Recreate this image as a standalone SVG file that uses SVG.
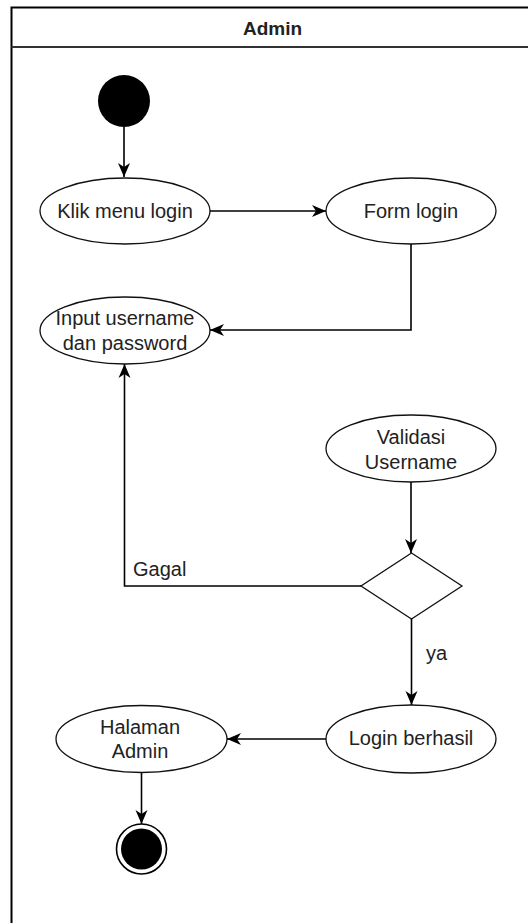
<svg xmlns="http://www.w3.org/2000/svg" width="528" height="923" viewBox="0 0 528 923">
<style>
.t{font-family:"Liberation Sans",Arial,sans-serif;font-size:20px;fill:#222;text-anchor:middle}
.l{font-family:"Liberation Sans",Arial,sans-serif;font-size:20px;fill:#222}
.act{fill:#fff;stroke:#111;stroke-width:1.3}
.edge{fill:none;stroke:#000;stroke-width:1.6}
</style>
<defs>
<marker id="arr" markerUnits="userSpaceOnUse" markerWidth="16" markerHeight="14" viewBox="0 -7 16 14" refX="14" refY="0" orient="auto">
<path d="M0,-6 L14,0 L0,6 L4,0 z" fill="#000"/>
</marker>
</defs>
<rect width="528" height="923" fill="#fff"/>
<g id="lane">
<rect x="11.5" y="7.5" width="523" height="930" fill="none" stroke="#000" stroke-width="2"/>
<line x1="11.5" y1="47" x2="535" y2="47" stroke="#333" stroke-width="2"/>
<text x="272.5" y="35" class="t" style="font-weight:bold;font-size:19px">Admin</text>
</g>
<g id="start"><circle cx="124" cy="101" r="26" fill="#000"/></g>
<g id="klik"><ellipse class="act" cx="125" cy="211" rx="85" ry="33"/><text class="t" x="125" y="218">Klik menu login</text></g>
<g id="form"><ellipse class="act" cx="411" cy="211" rx="85" ry="33"/><text class="t" x="411" y="218">Form login</text></g>
<g id="input"><ellipse class="act" cx="125" cy="330.5" rx="85" ry="33.5"/><text class="t" x="125" y="325">Input username</text><text class="t" x="125" y="350">dan password</text></g>
<g id="validasi"><ellipse class="act" cx="411" cy="448.5" rx="85" ry="33.5"/><text class="t" x="411" y="444">Validasi</text><text class="t" x="411" y="469">Username</text></g>
<g id="decision"><polygon class="act" points="411.5,553 462,586 411.5,619 361,586" stroke-width="1.6"/></g>
<g id="berhasil"><ellipse class="act" cx="411" cy="739" rx="85" ry="34"/><text class="t" x="411" y="745">Login berhasil</text></g>
<g id="halaman"><ellipse class="act" cx="141.5" cy="739" rx="85.5" ry="33.5"/><text class="t" x="140" y="734">Halaman</text><text class="t" x="140" y="758">Admin</text></g>
<g id="end"><circle cx="141.5" cy="849" r="25" fill="#fff" stroke="#000" stroke-width="1.6"/><circle cx="141.5" cy="849" r="20.5" fill="#000"/></g>
<g id="connectors">
<path class="edge" d="M124,127 L124,177" marker-end="url(#arr)"/>
<path class="edge" d="M210,211 L326,211" marker-end="url(#arr)"/>
<path class="edge" d="M411,244 L411,330 L210,330" marker-end="url(#arr)"/>
<path class="edge" d="M411,482 L411,553" marker-end="url(#arr)"/>
<path class="edge" d="M361,586 L124.5,586 L124.5,364" marker-end="url(#arr)"/>
<path class="edge" d="M411.5,619 L411.5,705" marker-end="url(#arr)"/>
<path class="edge" d="M326,739 L227,739" marker-end="url(#arr)"/>
<path class="edge" d="M141.5,772.5 L141.5,824" marker-end="url(#arr)"/>
<text class="l" x="133" y="576">Gagal</text>
<text class="l" x="426" y="660">ya</text>
</g>
</svg>
